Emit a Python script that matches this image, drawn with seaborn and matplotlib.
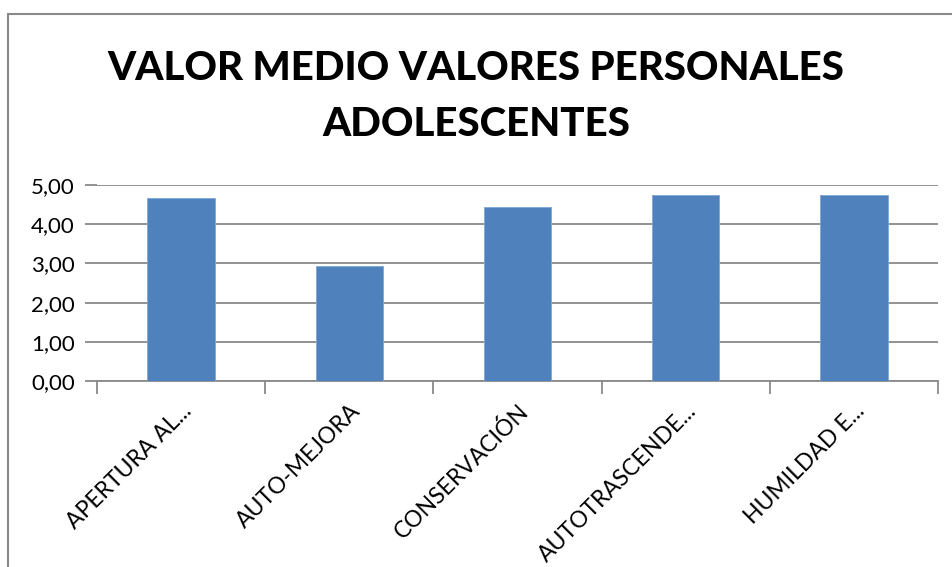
import matplotlib
matplotlib.use("Agg")
import matplotlib.pyplot as plt
from matplotlib.patches import Rectangle
from matplotlib.ticker import FuncFormatter, FixedLocator
import numpy as np
import pandas as pd
import seaborn as sns

# datos
categorias = ["APERTURA AL...", "AUTO-MEJORA", "CONSERVACIÓN",
              "AUTOTRASCENDE...", "HUMILDAD E..."]
valores = [4.66, 2.93, 4.43, 4.74, 4.75]
ticks_y = [0, 1, 2, 3, 4, 5]
titulo = "VALOR MEDIO VALORES PERSONALES\nADOLESCENTES"

sns.set_style("white")
plt.rcParams["font.family"] = ["Lato", "DejaVu Sans"]
plt.rcParams["text.color"] = "black"

df = pd.DataFrame({"categoria": categorias, "valor": valores})

fig = plt.figure(figsize=(9.52, 5.67), dpi=100)
ax = fig.add_axes([97 / 952, 1 - 381 / 567, (938 - 97) / 952, (381 - 185) / 567])

sns.barplot(data=df, x="categoria", y="valor", color="#4F81BD",
            width=0.4, saturation=1, edgecolor="#7EA6D6", linewidth=0.6,
            ax=ax, zorder=3)

gris = "#898989"
ax.set_ylim(0, 5)
ax.set_xlim(-0.5, len(categorias) - 0.5)
ax.yaxis.set_major_locator(FixedLocator(ticks_y))
ax.yaxis.set_major_formatter(FuncFormatter(lambda v, p: f"{v:.2f}".replace(".", ",")))
ax.grid(axis="y", color=gris, linewidth=1.3, zorder=0)
ax.set_axisbelow(True)

for s in ["top", "right", "left"]:
    ax.spines[s].set_visible(False)
ax.spines["bottom"].set_color(gris)
ax.spines["bottom"].set_linewidth(1.3)

ax.tick_params(axis="y", length=9, width=1.3, color=gris, labelsize=16,
               labelcolor="black", pad=7, left=True)
ax.set_xticks(np.arange(len(categorias)))
ax.set_xticklabels(categorias, rotation=45, ha="right", rotation_mode="anchor",
                   fontsize=16.5, color="black")
ax.tick_params(axis="x", which="major", length=0, pad=14)
ax.set_xticks(np.arange(len(categorias) + 1) - 0.5, minor=True)
ax.tick_params(axis="x", which="minor", length=9, width=1.3, color=gris, bottom=True)
ax.set_xlabel("")
ax.set_ylabel("")

fig.text(0.5, 1 - 96.5 / 567, titulo, ha="center", va="center", fontsize=29,
         fontweight="black", color="black", linespacing=1.62)

# marco del area del grafico
fig.patches.append(Rectangle((8 / 952, -0.2), 1.2, 1.2 - 14 / 567,
                             transform=fig.transFigure, fill=False,
                             edgecolor=gris, linewidth=1.5))

fig.savefig("out.png", dpi=100)
